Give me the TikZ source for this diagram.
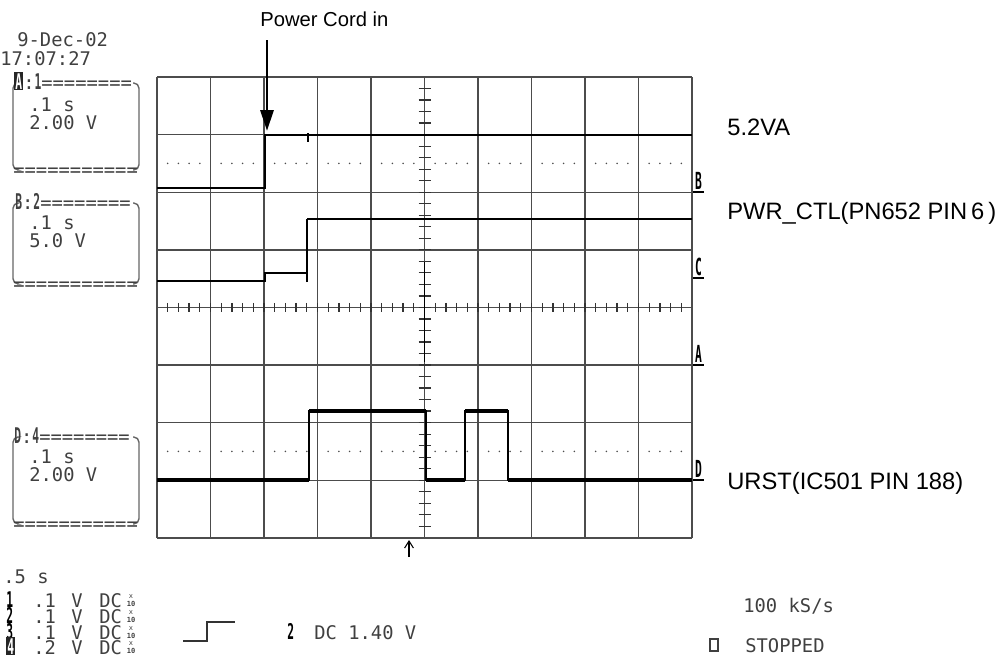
\documentclass[tikz,border=0pt]{standalone}
\usepackage{fontspec}
\setmainfont{Liberation Sans}
\newfontfamily\scopefont{DejaVu Sans Mono}
\usetikzlibrary{arrows.meta}

% tall narrow bold glyph of the scope screen
\newcommand{\narrowbf}[1]{\scalebox{0.6}[1.15]{\bfseries #1}}
\newcommand{\invchar}[1]{{\setlength{\fboxsep}{0.6pt}\colorbox{black!85}{\textcolor{white}{\narrowbf{#1}}}}}

\tikzset{
  scopetext/.style={font=\scopefont\fontsize{10.7}{12}\selectfont, text=black!75, inner sep=0pt, anchor=base west},
  sigtext/.style={font=\fontsize{13.5}{16}\selectfont, inner sep=0pt, anchor=base west},
  tinytext/.style={font=\scopefont\fontsize{4}{4}\selectfont, text=black!75, inner sep=0pt, anchor=base},
  gridline/.style={draw=black!70, line width=0.8pt},
  boxline/.style={draw=black!60, line width=0.8pt, rounded corners=3pt},
  tickline/.style={draw=black!80, line width=0.7pt},
  trace/.style={line width=1.1pt},
  fattrace/.style={line width=2.3pt}
}

\begin{document}
\begin{tikzpicture}[x=0.02cm,y=-0.02cm]
    \useasboundingbox (0,0) rectangle (1003,659);

    % screen grid
    \foreach \i in {0,...,10}
        \draw[gridline] ({157+53.5*\i},77) -- ({157+53.5*\i},538);
    \foreach \j in {0,...,8}
        \draw[gridline] (157,{77+57.6*\j}) -- (692,{77+57.6*\j});

    % dotted half-division rows
    \foreach \yy in {163.4,451.4}
        \foreach \i in {1,...,49} {
            \pgfmathtruncatemacro\m{mod(\i,5)}
            \ifnum\m>0 \fill[black!70] ({157+10.7*\i},\yy) circle (0.5pt); \fi
        }

    % centre axes with minor ticks
    \foreach \i in {1,...,49}
        \draw[tickline] ({157+10.7*\i},302.9) -- ({157+10.7*\i},311.9);
    \foreach \i in {1,...,39}
        \draw[tickline] (418.5,{77+11.52*\i}) -- (430.5,{77+11.52*\i});
    \draw[line width=1pt] (424.5,262) -- (424.5,362);

    % trace 5.2VA
    \draw[trace] (157,188) -- (265,188) -- (265,135) -- (692,135);
    \draw[trace] (308,133) -- (308,142);

    % trace PWR_CTL
    \draw[trace] (157,281) -- (265,281) -- (265,273) -- (307,273);
    \draw[trace] (307,282) -- (307,219);
    \draw[line width=1.7pt] (307,219) -- (692,219);

    % trace URST
    \draw[trace] (157,480) -- (309,480) -- (309,411) -- (426,411) -- (426,480)
        -- (465,480) -- (465,411) -- (508,411) -- (508,480) -- (692,480);
    \foreach \a/\b/\yy in {157/309/480, 309/426/411, 426/465/480, 465/508/411, 508/692/480}
        \draw[fattrace] (\a,\yy) -- (\b,\yy);

    % channel markers at the right edge
    \foreach \ch/\yy in {B/192, C/278, A/365, D/480} {
        \draw[line width=0.9pt] (693,\yy) -- (704,\yy);
        \node[scopetext, anchor=base, text=black] (mark\ch) at (698.5,{\yy-3}) {\scalebox{0.6}[1.25]{\bfseries\ch}};
    }

    % date and time
    \node[scopetext] (date) at (17,46) {9-Dec-02};
    \node[scopetext] (clock) at (0,65) {17:07:27};

    % channel boxes
    \foreach \top/\bot in {83/170, 203/284, 437/524} {
        \draw[boxline] (17,\top) -- (13,\top) -- (13,\bot) -- (17,\bot);
        \draw[boxline] (133,\top) -- (139,\top) -- (139,\bot) -- (133,\bot);
        \node[scopetext] (boxbot\top) at (13,{\bot+6}) {===========};
    }
    \node[scopetext] (hdrA) at (14,89) {\invchar{A}:\narrowbf{1}========};
    \node[scopetext] (tbA) at (29,111) {.1 s};
    \node[scopetext] (vA) at (29,129) {2.00 V};
    \node[scopetext] (hdrB) at (15,209) {\narrowbf{B}:\narrowbf{2}========};
    \node[scopetext] (tbB) at (29,229) {.1 s};
    \node[scopetext] (vB) at (29,247) {5.0 V};
    \node[scopetext] (hdrD) at (14,443) {\narrowbf{D}:\narrowbf{4}========};
    \node[scopetext] (tbD) at (29,463) {.1 s};
    \node[scopetext] (vD) at (29,481) {2.00 V};

    % timebase and channel list
    \node[scopetext] (tbase) at (3,583) {.5  s};
    \foreach \k/\v/\yy in {1/.1/600, 2/.1/616, 3/.1/632, 4/.2/647} {
        \node[scopetext, text=black] (ch\k) at (6,{\yy+7}) {\ifnum\k=4 \invchar{\k}\else\narrowbf{\k}\fi};
        \node[scopetext] (val\k) at (33,{\yy+7}) {\v};
        \node[scopetext] (unit\k) at (71,{\yy+7}) {V};
        \node[scopetext] (cpl\k) at (99,{\yy+7}) {DC};
        \node[tinytext] (probex\k) at (131,{\yy-2}) {x};
        \node[tinytext] (probe\k) at (131,{\yy+6}) {\bfseries 10};
    }

    % trigger
    \draw[trace, black!80] (183,641) -- (207,641) -- (207,622) -- (235,622);
    \node[scopetext, text=black] (trigch) at (287,639) {\narrowbf{2}};
    \node[scopetext] (triglvl) at (314,639) {DC 1.40 V};
    \coordinate (trigfoot) at (409,557);
    \coordinate (trighead) at (409,540);
    \draw[line width=0.6pt, -{Straight Barb[length=4pt,width=5pt]}] (trigfoot) -- (trighead);

    % acquisition state
    \node[scopetext] (rate) at (743,612) {100 kS/s};
    \draw[black!75, line width=0.7pt] (710,639) rectangle (718,651);
    \node[scopetext] (runstate) at (745,652) {STOPPED};

    % signal labels
    \node[sigtext, font=\fontsize{11.5}{13}\selectfont] (pwrcord) at (260,27) {Power Cord in};
    \coordinate (cordtop) at (267,40);
    \coordinate (cordtip) at (267,131);
    \draw[line width=1.7pt, -{Triangle[length=0.42cm,width=0.26cm]}] (cordtop) -- (cordtip);
    \node[sigtext] (vatext) at (727,135) {5.2VA};
    \node[sigtext] (pwrctl) at (727,219) {PWR\_CTL(PN652 PIN\,6\,)};
    \node[sigtext] (urst) at (727,489) {URST(IC501 PIN 188)};
\end{tikzpicture}
\end{document}
